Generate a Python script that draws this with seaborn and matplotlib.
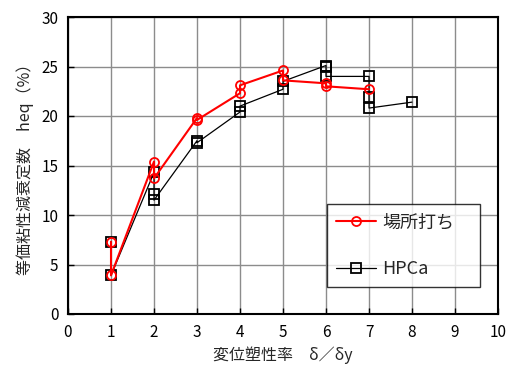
import matplotlib
matplotlib.use("Agg")
import matplotlib.pyplot as plt
import seaborn as sns
import pandas as pd

# Ductility factor and equivalent damping for each loading cycle (in loading order)
cast_x = [1, 1, 2, 2, 3, 3, 4, 4, 5, 5, 6, 6, 7]
cast_h = [7.3, 3.9, 15.4, 13.7, 19.8, 19.6, 22.3, 23.1, 24.6, 23.6, 23.3, 23.0, 22.7]

hpca_x = [1, 1, 2, 2, 2, 3, 3, 4, 4, 5, 5, 6, 6, 6, 7, 7, 7, 8]
hpca_h = [7.3, 3.9, 14.3, 12.1, 11.5, 17.5, 17.3, 20.4, 21.0, 22.7, 23.5, 25.1, 24.9,
          24.0, 24.0, 21.9, 20.8, 21.4]

series_names = ["場所打ち", "HPCa"]
x_ticks = list(range(0, 11))
y_ticks = [0, 5, 10, 15, 20, 25, 30]

sns.set_style("white")
plt.rcParams["font.family"] = ["Noto Sans CJK JP", "DejaVu Sans"]

fig = plt.figure(figsize=(5.12, 3.74), dpi=100)
ax = fig.add_axes([68 / 512, 1 - 314 / 374, 430 / 512, 297 / 374])

df_cast = pd.DataFrame({"x": cast_x, "h": cast_h})
df_hpca = pd.DataFrame({"x": hpca_x, "h": hpca_h})

sns.lineplot(data=df_cast, x="x", y="h", sort=False, estimator=None, ax=ax,
             color="#ff0000", linewidth=1.5, marker="o", markersize=6.5,
             markerfacecolor="none", markeredgecolor="#ff0000", markeredgewidth=1.3,
             label=series_names[0], zorder=3)
sns.lineplot(data=df_hpca, x="x", y="h", sort=False, estimator=None, ax=ax,
             color="black", linewidth=0.9, marker="s", markersize=6.5,
             markerfacecolor="none", markeredgecolor="black", markeredgewidth=1.3,
             label=series_names[1], zorder=2)

ax.set_xlim(0, 10)
ax.set_ylim(0, 30)
ax.set_xticks(x_ticks)
ax.set_yticks(y_ticks)
ax.grid(True, color="#8c8c8c", linewidth=1.0)
ax.set_axisbelow(True)
for s in ax.spines.values():
    s.set_visible(True)
    s.set_color("black")
    s.set_linewidth(1.5)
ax.tick_params(direction="in", length=4, width=1, colors="black",
               labelsize=11, pad=7, bottom=True, left=True)

ax.set_xlabel("変位塑性率　δ／δy", fontsize=11.5, labelpad=4)
ax.set_ylabel("等価粘性減衰定数　heq（%）", fontsize=11.5, labelpad=5)

leg = ax.legend(loc="lower left", bbox_to_anchor=(0.602, 0.091, 0.356, 0.276),
                mode="expand", frameon=True, fancybox=False, fontsize=13,
                borderpad=0.5, labelspacing=1.6, handlelength=2.2,
                handletextpad=0.35, borderaxespad=0)
leg.get_frame().set_edgecolor("black")
leg.get_frame().set_linewidth(1.0)

fig.savefig("out.png", dpi=100)
